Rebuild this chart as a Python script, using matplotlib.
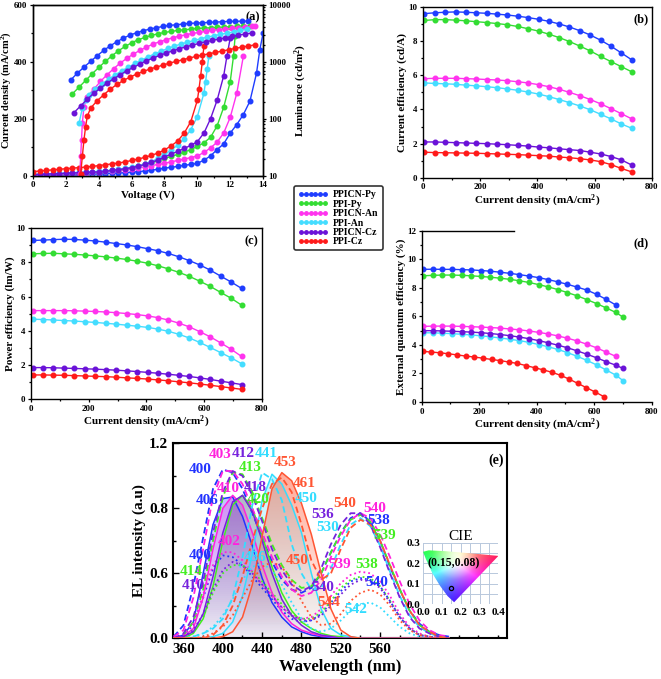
import numpy as np
import matplotlib
matplotlib.use('Agg')
import matplotlib.pyplot as plt
from matplotlib.lines import Line2D
from matplotlib.patches import Polygon
from matplotlib.colors import to_rgb
from matplotlib.ticker import MultipleLocator

plt.rcParams['font.family'] = 'Liberation Serif'
plt.rcParams['font.weight'] = 'bold'
plt.rcParams['axes.labelweight'] = 'bold'
plt.rcParams['mathtext.fontset'] = 'custom'
plt.rcParams['mathtext.rm'] = 'Liberation Serif:bold'
plt.rcParams['mathtext.it'] = 'Liberation Serif:bold'
plt.rcParams['mathtext.bf'] = 'Liberation Serif:bold'

# --------------------------------------------------------------
# series names / colours
names = ['PPICN-Py', 'PPI-Py', 'PPICN-An', 'PPI-An', 'PPICN-Cz', 'PPI-Cz']
colors = ['#1f3dff', '#33dd33', '#ff33ee', '#44ddff', '#6a12d8', '#ff1a1a']

# --------------------------------------------------------------
# (a) J-V (left axis) and L-V (right axis)
volt_steps = [0.0, 0.4, 0.8, 1.2, 1.6, 2.0, 2.4, 2.8, 3.2, 3.6, 4.0, 4.4, 4.8, 5.2, 5.6, 6.0, 6.4, 6.8,
              7.2, 7.6, 8.0, 8.4, 8.8, 9.2, 9.6, 10.0, 10.4, 10.8, 11.2, 11.6, 12.0, 12.4, 12.8, 13.2, 13.6]

jv_v = {
    'PPICN-Py': volt_steps + [13.8, 14.0],
    'PPI-Py': volt_steps[:31] + [12.2, 12.3],
    'PPICN-An': volt_steps[:33],
    'PPI-An': volt_steps[:27] + [10.5, 10.6, 10.7],
    'PPICN-Cz': volt_steps[:30] + [11.8, 12.0],
    'PPI-Cz': volt_steps[:26] + [10.1, 10.2, 10.3, 10.4],
}
jv_j = {
    'PPICN-Py': [1, 1, 2, 2, 3, 3, 4, 4, 5, 6, 7, 8, 9, 10, 11, 13, 15, 17, 20, 23, 27, 30, 33, 37, 40,
                 44, 55, 70, 92, 112, 150, 180, 215, 262, 360, 442, 500],
    'PPI-Py': [3, 4, 5, 6, 7, 8, 9, 10, 11, 12, 14, 16, 19, 22, 25, 29, 34, 40, 46, 53, 61, 68, 75, 83, 92,
               103, 116, 135, 175, 240, 330, 420, 490],
    'PPICN-An': [3, 4, 5, 6, 7, 8, 9, 10, 11, 12, 14, 16, 18, 20, 22, 25, 28, 32, 36, 40, 44, 49, 54, 59, 64,
                 70, 82, 98, 118, 150, 205, 290, 420],
    'PPI-An': [5, 6, 7, 8, 9, 10, 11, 12, 13, 14, 16, 18, 20, 23, 26, 30, 35, 41, 50, 61, 75, 90, 108, 130, 162,
               208, 290, 330, 375, 420],
    'PPICN-Cz': [4, 5, 6, 7, 8, 9, 10, 11, 12, 13, 14, 16, 19, 22, 25, 29, 34, 40, 47, 56, 66, 76, 86, 96, 107,
                 120, 150, 200, 265, 350, 420, 483],
    'PPI-Cz': [15, 17, 19, 21, 23, 25, 27, 29, 31, 33, 36, 39, 42, 45, 49, 54, 59, 65, 72, 80, 91, 105, 122, 150, 190,
               265, 305, 350, 400, 455],
}

lv_v = {
    'PPICN-Py': [2.3, 2.7, 3.1, 3.5, 3.9, 4.3, 4.7, 5.1, 5.5, 5.9, 6.3, 6.7, 7.1, 7.5, 7.9, 8.3, 8.7, 9.1, 9.5, 9.9,
                 10.3, 10.7, 11.1, 11.5, 11.9, 12.3, 12.7, 13.1],
    'PPI-Py': [2.4, 2.8, 3.2, 3.6, 4.0, 4.4, 4.8, 5.2, 5.6, 6.0, 6.4, 6.8, 7.2, 7.6, 8.0, 8.4, 8.8, 9.2, 9.6, 10.0,
               10.4, 10.8, 11.2, 11.6, 12.0, 12.4, 12.8, 13.2],
    'PPICN-An': [2.85, 2.9, 2.95, 3.0, 3.1, 3.3, 3.7, 4.1, 4.5, 4.9, 5.3, 5.7, 6.1, 6.5, 6.9, 7.3, 7.7, 8.1, 8.5,
                 8.9, 9.3, 9.7, 10.1, 10.5, 10.9, 11.3, 11.7, 12.1, 12.5, 12.9, 13.3, 13.5],
    'PPI-An': [2.8, 3.0, 3.2, 3.4, 3.8, 4.2, 4.6, 5.0, 5.4, 5.8, 6.2, 6.6, 7.0, 7.4, 7.8, 8.2, 8.6, 9.0, 9.4, 9.8,
               10.2, 10.6, 11.0, 11.4, 11.8, 12.2, 12.6, 13.0],
    'PPICN-Cz': [2.5, 2.9, 3.3, 3.7, 4.1, 4.5, 4.9, 5.3, 5.7, 6.1, 6.5, 6.9, 7.3, 7.7, 8.1, 8.5, 8.9, 9.3, 9.7,
                 10.1, 10.5, 10.9, 11.3, 11.7, 12.1, 12.5, 12.9, 13.3],
    'PPI-Cz': [2.9, 3.0, 3.1, 3.2, 3.3, 3.5, 3.9, 4.3, 4.7, 5.1, 5.5, 5.9, 6.3, 6.7, 7.1, 7.5, 7.9, 8.3, 8.7, 9.1,
               9.5, 9.9, 10.3, 10.7, 11.1, 11.5, 11.9, 12.3, 12.7, 13.1, 13.5],
}
lv_l = {
    'PPICN-Py': [483, 632, 806, 1014, 1274, 1581, 1909, 2244, 2602, 2938, 3228, 3499, 3741, 3946, 4169, 4337,
                 4457, 4581, 4709, 4765, 4830, 4898, 4966, 5035, 5105, 5105, 5164, 5164],
    'PPI-Py': [275, 359, 471, 616, 796, 1014, 1274, 1560, 1857, 2153, 2432, 2673, 2897, 3097, 3270, 3405, 3546,
               3642, 3741, 3843, 3900, 3946, 4000, 4056, 4111, 4169, 4169, 4227],
    'PPICN-An': [11, 22, 43, 84, 164, 246, 331, 452, 591, 754, 948, 1144, 1364, 1581, 1808, 2042, 2244, 2432,
                 2636, 2818, 2978, 3141, 3270, 3405, 3546, 3642, 3741, 3843, 3946, 4056, 4169, 4227],
    'PPI-An': [84, 154, 215, 264, 331, 411, 497, 591, 695, 806, 935, 1069, 1224, 1380, 1538, 1714, 1884, 2042,
               2213, 2366, 2535, 2710, 2858, 3018, 3184, 3357, 3546, 3741],
    'PPICN-Cz': [129, 169, 221, 282, 345, 422, 503, 591, 695, 796, 910, 1042, 1159, 1291, 1419, 1560, 1690, 1833,
                 1960, 2098, 2244, 2366, 2500, 2636, 2780, 2938, 3055, 3184],
    'PPI-Cz': [11, 22, 43, 73, 110, 154, 207, 264, 331, 400, 471, 538, 608, 677, 743, 806, 874, 948, 1014, 1084,
               1159, 1241, 1309, 1380, 1459, 1538, 1625, 1714, 1808, 1884, 1986],
}

# --------------------------------------------------------------
# (b) current efficiency, (c) power efficiency vs current density
cd_x = [5, 41, 77, 114, 150, 186, 222, 259, 295, 331, 367, 404, 440, 476, 512, 549, 585, 621, 657, 694, 730]
ce = {
    'PPICN-Py': [9.6, 9.65, 9.68, 9.7, 9.68, 9.65, 9.62, 9.57, 9.52, 9.45, 9.37, 9.27, 9.15, 9.0, 8.82, 8.6,
                 8.35, 8.05, 7.7, 7.3, 6.9],
    'PPI-Py': [9.2, 9.25, 9.25, 9.22, 9.18, 9.13, 9.08, 9.02, 8.95, 8.85, 8.72, 8.58, 8.4, 8.2, 7.97, 7.7, 7.42,
               7.1, 6.8, 6.5, 6.2],
    'PPICN-An': [5.8, 5.82, 5.82, 5.82, 5.8, 5.78, 5.75, 5.72, 5.68, 5.62, 5.55, 5.45, 5.33, 5.18, 5.0, 4.8,
                 4.58, 4.33, 4.05, 3.75, 3.45],
    'PPI-An': [5.55, 5.52, 5.5, 5.47, 5.42, 5.38, 5.33, 5.27, 5.2, 5.12, 5.02, 4.9, 4.75, 4.58, 4.4, 4.2, 3.98,
               3.72, 3.45, 3.15, 2.9],
    'PPICN-Cz': [2.1, 2.1, 2.08, 2.06, 2.04, 2.02, 2.0, 1.97, 1.94, 1.9, 1.86, 1.8, 1.76, 1.7, 1.65, 1.6, 1.5,
                 1.4, 1.25, 1.05, 0.75],
    'PPI-Cz': [1.5, 1.48, 1.47, 1.46, 1.45, 1.44, 1.42, 1.4, 1.38, 1.36, 1.33, 1.3, 1.27, 1.22, 1.18, 1.12, 1.05,
               0.95, 0.78, 0.55, 0.35],
}
pe = {
    'PPICN-Py': [9.28, 9.3, 9.33, 9.35, 9.34, 9.3, 9.25, 9.18, 9.1, 9.02, 8.92, 8.8, 8.68, 8.52, 8.33, 8.1, 7.85,
                 7.55, 7.2, 6.85, 6.48],
    'PPI-Py': [8.5, 8.52, 8.53, 8.5, 8.47, 8.43, 8.38, 8.32, 8.25, 8.17, 8.07, 7.95, 7.8, 7.62, 7.42, 7.18, 6.9,
               6.6, 6.25, 5.9, 5.5],
    'PPICN-An': [5.18, 5.18, 5.18, 5.18, 5.17, 5.15, 5.13, 5.1, 5.06, 5.01, 4.95, 4.87, 4.77, 4.63, 4.45, 4.23,
                 3.95, 3.65, 3.3, 2.92, 2.5],
    'PPI-An': [4.68, 4.66, 4.63, 4.6, 4.57, 4.53, 4.49, 4.44, 4.39, 4.33, 4.27, 4.2, 4.1, 3.97, 3.8, 3.58, 3.32,
               3.03, 2.73, 2.42, 2.08],
    'PPICN-Cz': [1.85, 1.85, 1.84, 1.82, 1.8, 1.78, 1.76, 1.73, 1.7, 1.66, 1.62, 1.57, 1.52, 1.46, 1.4, 1.33,
                 1.25, 1.16, 1.06, 0.96, 0.86],
    'PPI-Cz': [1.42, 1.42, 1.41, 1.4, 1.38, 1.36, 1.34, 1.32, 1.29, 1.25, 1.22, 1.18, 1.13, 1.08, 1.02, 0.96,
               0.89, 0.82, 0.74, 0.66, 0.58],
}

# --------------------------------------------------------------
# (d) EQE vs current density
eqe_x = [5, 38, 72, 105, 139, 172, 206, 239, 273, 306, 340, 373, 407, 440, 474, 507, 541, 574, 608, 641, 675, 700]
eqe_x_cz = [3, 33, 63, 93, 123, 153, 183, 213, 243, 273, 303, 333, 363, 393, 423, 453, 483, 513, 543, 573, 603, 633]
eqe = {
    'PPICN-Py': [9.3, 9.31, 9.3, 9.3, 9.28, 9.26, 9.22, 9.17, 9.1, 9.02, 8.93, 8.83, 8.72, 8.58, 8.42, 8.25,
                 8.05, 7.85, 7.55, 7.2, 6.8],
    'PPI-Py': [8.85, 8.88, 8.9, 8.9, 8.88, 8.85, 8.8, 8.75, 8.68, 8.6, 8.5, 8.38, 8.23, 8.07, 7.88, 7.67, 7.44,
               7.18, 6.9, 6.6, 6.28, 5.95],
    'PPICN-An': [5.3, 5.32, 5.32, 5.32, 5.3, 5.28, 5.25, 5.22, 5.18, 5.12, 5.06, 4.98, 4.88, 4.77, 4.63, 4.47,
                 4.28, 4.05, 3.8, 3.5, 3.2],
    'PPI-An': [4.85, 4.85, 4.82, 4.79, 4.75, 4.7, 4.64, 4.57, 4.49, 4.4, 4.3, 4.18, 4.03, 3.87, 3.68, 3.46, 3.2,
               2.92, 2.6, 2.25, 1.88, 1.5],
    'PPICN-Cz': [5.0, 5.0, 4.98, 4.96, 4.93, 4.9, 4.86, 4.8, 4.73, 4.65, 4.55, 4.44, 4.3, 4.15, 3.98, 3.8, 3.58,
                 3.35, 3.1, 2.83, 2.58, 2.35],
    'PPI-Cz': [3.55, 3.5, 3.45, 3.38, 3.3, 3.22, 3.15, 3.07, 2.98, 2.9, 2.8, 2.7, 2.55, 2.4, 2.25, 2.08, 1.87,
               1.6, 1.3, 1.0, 0.7, 0.38],
}

# --------------------------------------------------------------
# (e) EL spectra: solid, dashed and dotted traces per emitter
wl = [350, 360, 370, 380, 390, 400, 410, 420, 430, 440, 450, 460, 470, 480, 490, 500, 510, 520, 530, 540,
      550, 560, 570, 580, 590, 600, 610, 620, 630]
el_colors = ['#2233ff', '#44ee22', '#ff22dd', '#33ddff', '#7722dd', '#ff5533']
el_solid = {
    'PPICN-Py': [0, 0.02, 0.1, 0.4, 0.7, 0.86, 0.87, 0.75, 0.57, 0.37, 0.22, 0.13, 0.07, 0.04, 0.02, 0.01, 0.005,
                 0, 0, 0, 0, 0, 0, 0, 0, 0, 0, 0, 0],
    'PPI-Py': [0, 0, 0.03, 0.12, 0.32, 0.6, 0.82, 0.88, 0.8, 0.63, 0.44, 0.28, 0.17, 0.1, 0.06, 0.03, 0.015, 0.01,
               0, 0, 0, 0, 0, 0, 0, 0, 0, 0, 0],
    'PPICN-An': [0, 0.01, 0.06, 0.25, 0.55, 0.8, 0.88, 0.82, 0.65, 0.45, 0.28, 0.16, 0.09, 0.05, 0.03, 0.015,
                 0.01, 0, 0, 0, 0, 0, 0, 0, 0, 0, 0, 0, 0],
    'PPI-An': [0, 0, 0, 0, 0.01, 0.03, 0.1, 0.26, 0.52, 0.85, 1.01, 0.95, 0.82, 0.65, 0.4, 0.18, 0.06, 0.02, 0.01,
               0, 0, 0, 0, 0, 0, 0, 0, 0, 0],
    'PPICN-Cz': [0, 0.01, 0.04, 0.15, 0.38, 0.65, 0.84, 0.88, 0.78, 0.6, 0.4, 0.24, 0.14, 0.08, 0.04, 0.02, 0.01,
                 0, 0, 0, 0, 0, 0, 0, 0, 0, 0, 0, 0],
    'PPI-Cz': [0, 0, 0, 0, 0, 0.01, 0.04, 0.13, 0.33, 0.63, 0.92, 1.02, 0.97, 0.83, 0.64, 0.4, 0.18, 0.05, 0.01,
               0, 0, 0, 0, 0, 0, 0, 0, 0, 0],
}
el_dash = {
    'PPICN-Py': [0.01, 0.08, 0.32, 0.62, 0.92, 1.04, 1.02, 0.92, 0.77, 0.62, 0.47, 0.36, 0.3, 0.28, 0.31, 0.4,
                 0.53, 0.65, 0.74, 0.77, 0.72, 0.6, 0.44, 0.3, 0.17, 0.09, 0.04, 0.02, 0.01],
    'PPI-Py': [0, 0.02, 0.1, 0.3, 0.6, 0.87, 1.02, 1.01, 0.9, 0.74, 0.58, 0.45, 0.36, 0.31, 0.32, 0.4, 0.53,
               0.65, 0.73, 0.76, 0.72, 0.6, 0.45, 0.3, 0.17, 0.08, 0.04, 0.01, 0],
    'PPICN-An': [0.01, 0.05, 0.25, 0.55, 0.87, 1.03, 1.03, 0.95, 0.8, 0.65, 0.5, 0.38, 0.3, 0.26, 0.28, 0.36,
                 0.5, 0.63, 0.73, 0.77, 0.74, 0.64, 0.5, 0.35, 0.21, 0.11, 0.05, 0.02, 0.01],
    'PPI-An': [0, 0, 0.01, 0.03, 0.06, 0.12, 0.25, 0.5, 0.82, 1.02, 0.98, 0.85, 0.58, 0.4, 0.3, 0.31, 0.43,
               0.58, 0.7, 0.74, 0.69, 0.57, 0.41, 0.26, 0.14, 0.07, 0.03, 0.01, 0],
    'PPICN-Cz': [0, 0.03, 0.13, 0.35, 0.65, 0.9, 1.03, 1.0, 0.88, 0.72, 0.55, 0.42, 0.33, 0.29, 0.32, 0.43,
                 0.58, 0.7, 0.77, 0.77, 0.7, 0.56, 0.4, 0.25, 0.13, 0.06, 0.03, 0.01, 0],
    'PPI-Cz': [0, 0, 0, 0, 0.02, 0.08, 0.2, 0.38, 0.6, 0.8, 0.95, 0.99, 0.9, 0.7, 0.48, 0.36, 0.4, 0.55, 0.68,
               0.73, 0.7, 0.6, 0.45, 0.3, 0.17, 0.08, 0.04, 0.01, 0],
}
el_dot = {
    'PPICN-Py': [0, 0.02, 0.08, 0.25, 0.43, 0.51, 0.5, 0.45, 0.38, 0.31, 0.24, 0.17, 0.12, 0.1, 0.11, 0.15, 0.22,
                 0.29, 0.35, 0.37, 0.36, 0.32, 0.23, 0.13, 0.06, 0.02, 0.01, 0, 0],
    'PPI-Py': [0, 0.01, 0.04, 0.13, 0.28, 0.4, 0.45, 0.45, 0.41, 0.35, 0.28, 0.21, 0.15, 0.12, 0.12, 0.16, 0.23,
               0.31, 0.36, 0.38, 0.37, 0.32, 0.23, 0.13, 0.06, 0.02, 0.01, 0, 0],
    'PPICN-An': [0, 0.02, 0.09, 0.27, 0.45, 0.53, 0.53, 0.48, 0.41, 0.33, 0.26, 0.19, 0.14, 0.12, 0.13, 0.18,
                 0.26, 0.34, 0.39, 0.41, 0.4, 0.35, 0.26, 0.15, 0.07, 0.03, 0.01, 0, 0],
    'PPI-An': [0, 0, 0.01, 0.03, 0.07, 0.14, 0.24, 0.36, 0.44, 0.46, 0.42, 0.33, 0.22, 0.12, 0.06, 0.04, 0.06,
               0.11, 0.17, 0.21, 0.22, 0.19, 0.13, 0.07, 0.03, 0.01, 0, 0, 0],
    'PPICN-Cz': [0, 0.01, 0.05, 0.15, 0.3, 0.42, 0.47, 0.45, 0.4, 0.33, 0.26, 0.19, 0.14, 0.11, 0.11, 0.14, 0.2,
                 0.27, 0.33, 0.36, 0.35, 0.31, 0.22, 0.13, 0.06, 0.02, 0.01, 0, 0],
    'PPI-Cz': [0, 0, 0, 0.01, 0.03, 0.07, 0.14, 0.25, 0.36, 0.44, 0.47, 0.44, 0.35, 0.23, 0.13, 0.08, 0.09, 0.15,
               0.23, 0.28, 0.3, 0.27, 0.2, 0.11, 0.05, 0.02, 0.01, 0, 0],
}
# peak labels: (text, wavelength, intensity, series)
peak_labels = [('403', 397, 1.13, 'PPICN-An'), ('412', 421, 1.14, 'PPICN-Cz'), ('441', 444, 1.14, 'PPI-An'),
               ('453', 463, 1.08, 'PPI-Cz'), ('400', 377, 1.04, 'PPICN-Py'), ('413', 428, 1.05, 'PPI-Py'),
               ('461', 483, 0.95, 'PPI-Cz'), ('410', 406, 0.92, 'PPICN-An'), ('418', 433, 0.93, 'PPICN-Cz'),
               ('406', 384, 0.85, 'PPICN-Py'), ('420', 436, 0.855, 'PPI-Py'), ('450', 485, 0.86, 'PPI-An'),
               ('540', 524, 0.83, 'PPI-Cz'), ('540', 555, 0.80, 'PPICN-An'), ('536', 502, 0.76, 'PPICN-Cz'),
               ('538', 559, 0.726, 'PPICN-Py'), ('530', 507, 0.685, 'PPI-An'), ('539', 565, 0.634, 'PPI-Py'),
               ('402', 406, 0.593, 'PPICN-An'), ('400', 377, 0.507, 'PPICN-Py'), ('436', 433, 0.50, 'PPI-An'),
               ('450', 476, 0.48, 'PPI-Cz'), ('539', 519, 0.455, 'PPICN-An'), ('538', 546, 0.455, 'PPI-Py'),
               ('414', 368, 0.41, 'PPI-Py'), ('540', 557, 0.346, 'PPICN-Py'), ('410', 370, 0.326, 'PPICN-Cz'),
               ('540', 502, 0.31, 'PPICN-Cz'), ('544', 508, 0.22, 'PPI-Cz'), ('542', 535, 0.177, 'PPI-An')]
cie_point = (0.15, 0.08)


def style_axes(ax, direction='out'):
    ax.tick_params(which='both', direction=direction, labelsize=6.5, width=0.9, pad=1.5)
    ax.tick_params(which='major', length=2.5)
    ax.tick_params(which='minor', length=1.5)
    for s in ax.spines.values():
        s.set_linewidth(1.0)


def shade(ax, x, y, color, amax):
    verts = [(x[0], 0)] + list(zip(x, y)) + [(x[-1], 0)]
    poly = Polygon(verts, closed=True, facecolor='none', edgecolor='none')
    ax.add_patch(poly)
    r, g, b = to_rgb(color)
    grad = np.zeros((100, 1, 4))
    grad[..., 0] = r
    grad[..., 1] = g
    grad[..., 2] = b
    grad[:, 0, 3] = np.linspace(0.02, amax, 100)
    im = ax.imshow(grad, extent=[x[0], x[-1], 0, max(y)], origin='lower', aspect='auto', zorder=1)
    im.set_clip_path(poly)


fig = plt.figure(figsize=(6.61, 6.79), dpi=100)

# --------------------------------------------------------------
# panel (a)
ax = fig.add_axes([0.050, 0.741, 0.348, 0.252])
ax2 = ax.twinx()
for n, c in zip(names, colors):
    ax.plot(jv_v[n], jv_j[n], '-o', color=c, ms=3.3, lw=1.0, zorder=3)
    ax2.plot(lv_v[n], lv_l[n], '-o', color=c, ms=3.3, lw=1.0)
ax.set_xlim(0, 14)
ax.set_ylim(0, 600)
ax2.set_yscale('log')
ax2.set_ylim(10, 10000)
ax.xaxis.set_major_locator(MultipleLocator(2))
ax.xaxis.set_minor_locator(MultipleLocator(1))
ax.yaxis.set_major_locator(MultipleLocator(200))
ax.yaxis.set_minor_locator(MultipleLocator(100))
ax2.set_yticks([10, 100, 1000, 10000])
ax2.set_yticklabels(['10', '100', '1000', '10000'])
ax.set_xlabel('Voltage (V)', fontsize=8, labelpad=1)
ax.set_ylabel('Current density (mA/cm$^2$)', fontsize=7.5, labelpad=1)
ax2.set_ylabel('Luminance (cd/m$^2$)', fontsize=8, labelpad=1)
style_axes(ax)
style_axes(ax2)
ax.text(0.985, 0.96, '(a)', transform=ax.transAxes, ha='right', va='top', fontsize=9)

# --------------------------------------------------------------
# panels (b), (c), (d)
panels = [([0.640, 0.738, 0.346, 0.252], ce, 'Current efficiency (cd/A)', '(b)', 10, None),
          ([0.047, 0.412, 0.349, 0.252], pe, 'Power efficiency (lm/W)', '(c)', 10, None),
          ([0.638, 0.408, 0.348, 0.252], eqe, 'External quantum efficiency (%)', '(d)', 12, 'eqe')]
for rect, data, ylab, tag, ymax, kind in panels:
    axp = fig.add_axes(rect)
    for n, c in zip(names, colors):
        if kind == 'eqe':
            xs = eqe_x_cz if n == 'PPI-Cz' else eqe_x[:len(data[n])]
        else:
            xs = cd_x
        axp.plot(xs, data[n], '-o', color=c, ms=3.3, lw=1.0)
    axp.set_xlim(0, 800)
    axp.set_ylim(0, ymax)
    axp.xaxis.set_major_locator(MultipleLocator(200))
    axp.xaxis.set_minor_locator(MultipleLocator(100))
    axp.yaxis.set_major_locator(MultipleLocator(2))
    axp.yaxis.set_minor_locator(MultipleLocator(1))
    axp.set_xlabel('Current density (mA/cm$^2$)', fontsize=8, labelpad=1)
    axp.set_ylabel(ylab, fontsize=8, labelpad=1)
    style_axes(axp)
    axp.text(0.985, 0.96, tag, transform=axp.transAxes, ha='right', va='top', fontsize=9)
    if kind == 'eqe':
        axp.spines['right'].set_visible(False)
        axp.spines['top'].set_bounds(0, 320)

# legend
handles = [Line2D([], [], color=c, marker='o', ms=2.5, lw=1.0) for c in colors]
fig.legend(handles, names, loc='upper left', bbox_to_anchor=(0.438, 0.733), numpoints=6, fontsize=7,
           frameon=True, fancybox=True, edgecolor='black', handlelength=3.0, handletextpad=0.6,
           labelspacing=0.05, borderpad=0.4).get_frame().set_linewidth(1.2)

# --------------------------------------------------------------
# panel (e)
axe = fig.add_axes([0.262, 0.060, 0.505, 0.287])
for n, c in zip(names, el_colors):
    shade(axe, wl, el_solid[n], c, 0.5 if n == 'PPI-Cz' else 0.3)
for n, c in zip(names, el_colors):
    axe.plot(wl, el_solid[n], '-', color=c, lw=1.1, zorder=3)
    axe.plot(wl, el_dash[n], '--', color=c, lw=1.3, dashes=(3.5, 2), zorder=3)
    axe.plot(wl, el_dot[n], ':', color=c, lw=1.3, zorder=3)
for txt, x, y, n in peak_labels:
    axe.text(x, y, txt, color=el_colors[names.index(n)], fontsize=11, ha='center', va='center', zorder=5)
axe.set_xlim(349.5, 689)
axe.set_ylim(0, 1.2)
axe.set_xticks([360, 400, 440, 480, 520, 560])
axe.xaxis.set_minor_locator(MultipleLocator(20))
axe.set_yticks([0, 0.4, 0.8, 1.2])
axe.set_yticklabels(['0.0', '0.6', '0.8', '1.2'])
axe.yaxis.set_minor_locator(MultipleLocator(0.2))
axe.tick_params(which='both', direction='in', labelsize=11, width=1.0)
axe.tick_params(which='major', length=4)
axe.tick_params(which='minor', length=2.5)
for s in axe.spines.values():
    s.set_linewidth(1.5)
axe.set_xlabel('Wavelength (nm)', fontsize=12, labelpad=2)
axe.set_ylabel('EL intensity (a.u)', fontsize=11, labelpad=2)
axe.text(0.99, 0.95, '(e)', transform=axe.transAxes, ha='right', va='top', fontsize=10)

# CIE inset
axc = fig.add_axes([0.640, 0.110, 0.114, 0.091])
gx, gy = np.meshgrid(np.linspace(0, 0.4, 200), np.linspace(0, 0.3, 150))
G, R, B = np.array([0.0, 0.26]), np.array([0.4, 0.235]), np.array([0.165, 0.01])
den = (R[1] - B[1]) * (G[0] - B[0]) + (B[0] - R[0]) * (G[1] - B[1])
wg = ((R[1] - B[1]) * (gx - B[0]) + (B[0] - R[0]) * (gy - B[1])) / den
wr = ((B[1] - G[1]) * (gx - B[0]) + (G[0] - B[0]) * (gy - B[1])) / den
wb = 1 - wg - wr
w = np.clip(np.stack([wg, wr, wb], -1), 0, None)
cols = (w[..., 0:1] * np.array([0.15, 1.0, 0.3]) + w[..., 1:2] * np.array([1.0, 0.1, 0.35])
        + w[..., 2:3] * np.array([0.3, 0.1, 1.0]))
cols = cols / np.maximum(cols.max(-1, keepdims=True), 1e-6)
wh = np.clip(1 - np.hypot(gx - 0.17, gy - 0.24) / 0.12, 0, 1)[..., None] * 0.75
cols = cols * (1 - wh) + wh
gamut = Polygon([(0.0, 0.255), (0.03, 0.262), (0.12, 0.258), (0.22, 0.25), (0.32, 0.242), (0.4, 0.235),
                 (0.165, 0.01), (0.13, 0.04), (0.09, 0.09), (0.05, 0.15), (0.015, 0.22)],
                closed=True, facecolor='none', edgecolor='none')
axc.add_patch(gamut)
img = axc.imshow(cols, extent=[0, 0.4, 0, 0.3], origin='lower', aspect='auto', zorder=2)
img.set_clip_path(gamut)
axc.plot([cie_point[0]], [cie_point[1]], 'o', mfc='none', mec='black', ms=3, mew=0.9, zorder=4)
axc.text(0.165, 0.2, '(%.2f,%.2f)' % cie_point, fontsize=8.5, ha='center', va='center', zorder=5)
axc.set_xlim(0, 0.4)
axc.set_ylim(0, 0.3)
axc.set_xticks([0, 0.1, 0.2, 0.3, 0.4])
axc.set_xticklabels(['0.0', '0.1', '0.2', '0.3', '0.4'])
axc.set_yticks([0, 0.1, 0.2, 0.3])
axc.set_yticklabels(['0.0', '0.1', '0.2', '0.3'])
axc.xaxis.set_minor_locator(MultipleLocator(0.05))
axc.yaxis.set_minor_locator(MultipleLocator(0.05))
axc.grid(True, which='both', color='#b8c8dc', lw=0.7, zorder=0)
axc.set_axisbelow(True)
axc.tick_params(which='both', length=0, labelsize=8)
axc.tick_params(axis='x', pad=3)
axc.tick_params(axis='y', pad=2)
for s in axc.spines.values():
    s.set_visible(False)
axc.set_title('CIE', fontsize=11, pad=1)

fig.savefig('out.png', dpi=100)
